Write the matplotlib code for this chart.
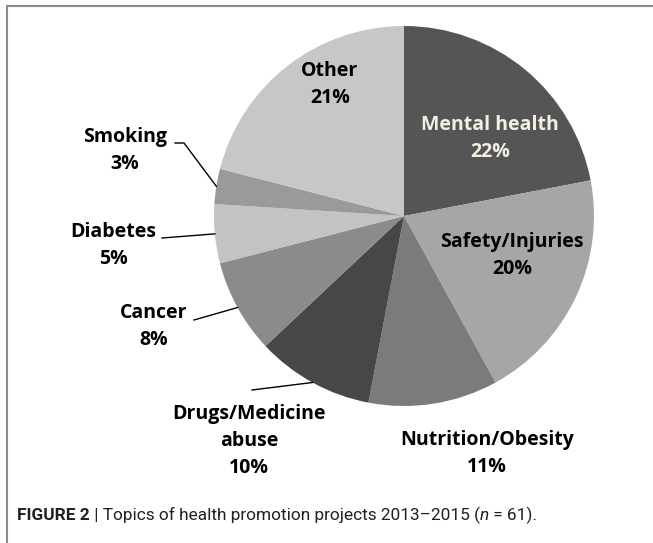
import matplotlib
matplotlib.use("Agg")
import matplotlib.pyplot as plt
from matplotlib.lines import Line2D
import numpy as np

categories = ["Mental health", "Safety/Injuries", "Nutrition/Obesity", "Drugs/Medicine\nabuse",
              "Cancer", "Diabetes", "Smoking", "Other"]
values = [22, 20, 11, 10, 8, 5, 3, 21]
colors = ["#555555", "#a6a6a6", "#7b7b7b", "#474747", "#8b8b8b", "#c3c3c3", "#9a9a9a", "#c7c7c7"]

W, H = 653, 543
fig = plt.figure(figsize=(W / 100, H / 100), dpi=100)
ax = fig.add_axes([0, 0, 1, 1])

cx, cy, R = 404, H - 216, 190
wedges, _ = ax.pie(values, colors=colors, startangle=90, counterclock=False,
                   center=(cx, cy), radius=R, wedgeprops=dict(linewidth=0), frame=True)
ax.set_xlim(0, W)
ax.set_ylim(0, H)
ax.set_aspect("auto")
ax.axis("off")

font = "Open Sans"
fs = 14

labels = [
    ("Mental health", "22%", 490, 125, "#f3f0e2", None),
    ("Safety/Injuries", "20%", 512, 242, "black", None),
    ("Nutrition/Obesity", "11%", 487, 440, "black", None),
    ("Drugs/Medicine\nabuse", "10%", 249, 414, "black", (250, 390)),
    ("Cancer", "8%", 154, 313, "black", (192, 320)),
    ("Diabetes", "5%", 113, 232, "black", (160, 238)),
    ("Smoking", "3%", 125, 137, "black", (173, 143)),
    ("Other", "21%", 330, 71, "black", None),
]

cum = np.cumsum([0] + values[:-1])
total = sum(values)
step = 27
for i, (name, pct, x, y, col, lead) in enumerate(labels):
    lines = name.split("\n") + [pct]
    for j, ln in enumerate(lines):
        ax.text(x, H - (y + j * step), ln, ha="center", va="center", fontsize=fs,
                fontweight="bold", family=font, color=col)
    if lead is not None:
        mid = (cum[i] + values[i] / 2) / total * 2 * np.pi
        ex = cx + R * np.sin(mid)
        ey = cy + R * np.cos(mid)
        if name == "Smoking":
            xs = [lead[0] + 2, lead[0] + 11, ex]
            ys = [H - lead[1], H - lead[1], ey]
        else:
            xs = [lead[0] + 2, ex]
            ys = [H - lead[1], ey]
        ax.plot(xs, ys, color="black", linewidth=1)

fig.add_artist(Line2D([7 / W, 1], [1 - 6 / H, 1 - 6 / H], transform=fig.transFigure,
                      color="#8c8c8c", linewidth=1.5))
fig.add_artist(Line2D([7 / W, 7 / W], [0, 1 - 6 / H], transform=fig.transFigure,
                      color="#8c8c8c", linewidth=1.5))

fig.canvas.draw()
renderer = fig.canvas.get_renderer()
cap_y = 1 - 515 / H
xpos = 17
pieces = [("FIGURE 2", "bold", "normal"), (" | Topics of health promotion projects 2013\u20132015 (", "normal", "normal"),
          ("n", "normal", "italic"), (" = 61).", "normal", "normal")]
for txt, wt, st in pieces:
    t = fig.text(xpos / W, cap_y, txt, fontsize=12.4, fontweight=wt, style=st,
                 family="Roboto", color="#231f20", va="center", ha="left")
    bb = t.get_window_extent(renderer)
    xpos += bb.width

fig.savefig("out.png", dpi=100)
